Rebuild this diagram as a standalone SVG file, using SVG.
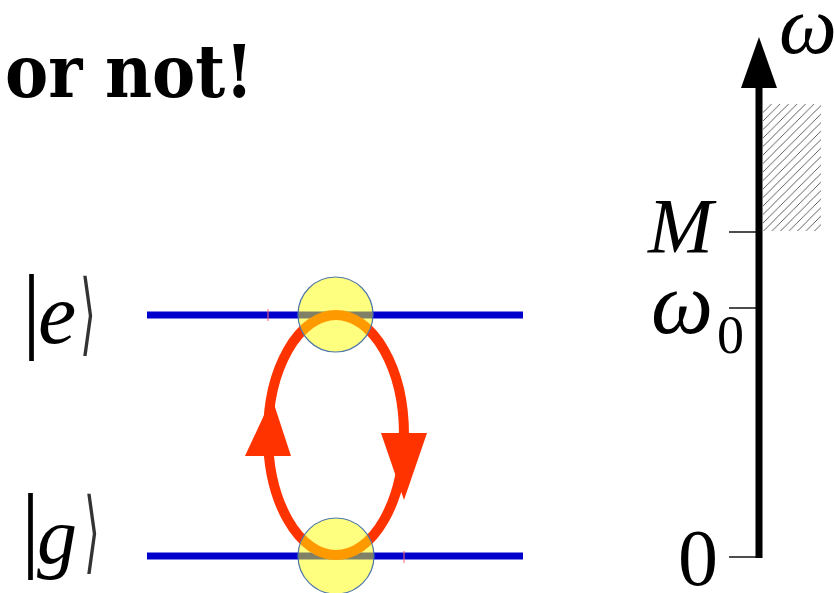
<svg xmlns="http://www.w3.org/2000/svg" width="834" height="593" viewBox="0 0 834 593">
<style>
.title{font-family:'DejaVu Serif Condensed','DejaVu Serif',serif;font-weight:bold;font-stretch:condensed;font-size:72px;fill:#000}
.it{font-family:'Liberation Serif',serif;font-style:italic;fill:#000}
.up{font-family:'Liberation Serif',serif;fill:#000}
.br{font-family:'DejaVu Sans',sans-serif;fill:#333}
.level{stroke:#0000cc;stroke-width:7;fill:none}
.dot{fill:#ffff00;fill-opacity:0.5;stroke:#4f76a8;stroke-width:1.2}
.tick{stroke:#000;stroke-width:1.4}
</style>
<defs>
<pattern id="hatch" patternUnits="userSpaceOnUse" width="8.5" height="8.5">
<line x1="-1" y1="9.5" x2="9.5" y2="-1" stroke="#333" stroke-width="0.8"/>
</pattern>
</defs>
<text class="title" x="5" y="97">or not!</text>
<g id="ket-e">
<text class="up" x="22" y="341" font-size="95">|</text>
<text class="it" x="38" y="343" font-size="86">e</text>
<text class="br" x="0" y="0" font-size="90" transform="translate(80,344) scale(0.45,1)">⟩</text>
</g>
<g id="ket-g">
<text class="up" x="21" y="560" font-size="95">|</text>
<text class="it" x="37" y="563" font-size="80">g</text>
<text class="br" x="0" y="0" font-size="90" transform="translate(84,562) scale(0.45,1)">⟩</text>
</g>
<g id="level-e"><line class="level" x1="147" y1="315" x2="523" y2="315"/></g>
<g id="level-g"><line class="level" x1="147" y1="556" x2="523" y2="556"/></g>
<g id="connectors">
<ellipse cx="336" cy="435" rx="68" ry="120" fill="none" stroke="#ff3300" stroke-width="10"/>
<polygon points="272,398 245,456 291,456" fill="#ff3300"/>
<polygon points="381,433 427,433 404,500" fill="#ff3300"/>
<line x1="268" y1="309" x2="268" y2="321" stroke="#ff6666" stroke-width="1"/>
<line x1="404" y1="551" x2="404" y2="563" stroke="#ff6666" stroke-width="1"/>
</g>
<g id="dot-e"><circle class="dot" cx="335.5" cy="314.5" r="37.5"/></g>
<g id="dot-g"><circle class="dot" cx="336" cy="556" r="38"/></g>
<g id="axis">
<rect x="763" y="104" width="58" height="127" fill="url(#hatch)"/>
<line x1="759" y1="84" x2="759" y2="558" stroke="#000" stroke-width="7"/>
<polygon points="759,37 741,88 777,88" fill="#000"/>
<line class="tick" x1="729" y1="232" x2="757" y2="232"/>
<line class="tick" x1="729" y1="308" x2="757" y2="308"/>
<line class="tick" x1="729" y1="557" x2="757" y2="557"/>
<text class="it" x="779" y="53" font-size="82">ω</text>
<text class="it" x="648" y="252" font-size="78">M</text>
<text class="it" x="651" y="333" font-size="88">ω</text>
<text class="up" x="717" y="353" font-size="54">0</text>
<text class="up" x="678" y="585" font-size="80">0</text>
</g>
</svg>
